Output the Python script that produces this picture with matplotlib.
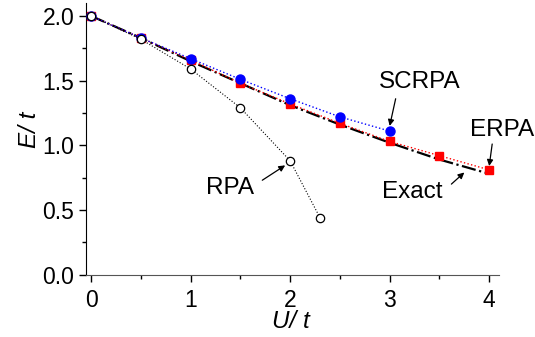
import matplotlib
matplotlib.use("Agg")
import matplotlib.pyplot as plt
from matplotlib.ticker import MultipleLocator

plt.rcParams['font.family'] = ['Liberation Sans', 'DejaVu Sans']

# data
u_rpa = [0, 0.5, 1.0, 1.5, 2.0, 2.3]
e_rpa = [2.0, 1.82, 1.59, 1.29, 0.88, 0.44]

u_scrpa = [0, 0.5, 1.0, 1.5, 2.0, 2.5, 3.0]
e_scrpa = [2.0, 1.83, 1.67, 1.51, 1.36, 1.22, 1.11]

u_erpa = [0, 0.5, 1.0, 1.5, 2.0, 2.5, 3.0, 3.5, 4.0]
e_erpa = [2.0, 1.83, 1.66, 1.48, 1.32, 1.17, 1.03, 0.92, 0.81]

u_exact = [0, 0.5, 1.0, 1.5, 2.0, 2.5, 3.0, 3.5, 4.0]
e_exact = [2.0, 1.83, 1.65, 1.48, 1.31, 1.16, 1.02, 0.89, 0.78]

fig = plt.figure(figsize=(5.35, 3.37), dpi=100)
ax = fig.add_axes([0.161, 0.185, 0.772, 0.806])

ax.plot(u_exact, e_exact, color='black', linestyle='-.', linewidth=1.6, zorder=2)
ax.plot(u_erpa, e_erpa, color='red', linestyle=':', linewidth=1.0,
        marker='s', markersize=6, markerfacecolor='red', markeredgecolor='red', zorder=3)
ax.plot(u_scrpa, e_scrpa, color='blue', linestyle=':', linewidth=1.0,
        marker='o', markersize=6.5, markerfacecolor='blue', markeredgecolor='blue', zorder=4)
ax.plot(u_rpa, e_rpa, color='black', linestyle=':', linewidth=0.8,
        marker='o', markersize=6, markerfacecolor='white', markeredgecolor='black',
        markeredgewidth=0.9, zorder=5)

arrow = dict(arrowstyle='-|>', color='black', lw=0.9, mutation_scale=9, shrinkA=0, shrinkB=0)
lab = 17.5
ax.text(3.30, 1.49, 'SCRPA', fontsize=lab, ha='center', va='center')
ax.annotate('', xy=(3.0, 1.15), xytext=(3.06, 1.36), arrowprops=arrow)
ax.text(4.13, 1.12, 'ERPA', fontsize=lab, ha='center', va='center')
ax.annotate('', xy=(4.0, 0.84), xytext=(4.03, 1.01), arrowprops=arrow)
ax.text(3.23, 0.64, 'Exact', fontsize=lab, ha='center', va='center')
ax.annotate('', xy=(3.75, 0.79), xytext=(3.62, 0.70), arrowprops=arrow)
ax.text(1.40, 0.67, 'RPA', fontsize=lab, ha='center', va='center')
ax.annotate('', xy=(1.95, 0.845), xytext=(1.72, 0.73), arrowprops=arrow)

ax.set_xlim(-0.05, 4.1)
ax.set_ylim(0, 2.1)
ax.xaxis.set_major_locator(MultipleLocator(1))
ax.xaxis.set_minor_locator(MultipleLocator(0.5))
ax.yaxis.set_minor_locator(MultipleLocator(0.25))
ax.set_yticks([0, 0.5, 1.0, 1.5, 2.0])
ax.set_yticklabels(['0.0', '0.5', '1.0', '1.5', '2.0'])
ax.tick_params(which='major', direction='out', length=5, width=1, labelsize=16.5)
ax.tick_params(which='minor', direction='out', length=3, width=1)
ax.tick_params(axis='x', which='major', pad=5)

for s in ['top', 'right']:
    ax.spines[s].set_visible(False)
ax.spines['bottom'].set_color('#555555')

fig.text(30 / 535, 1 - 130 / 337, 'E/ t', fontsize=lab, rotation=90,
         ha='center', va='center', style='italic')
fig.text(291 / 535, 1 - 322 / 337, 'U/ t', fontsize=lab,
         ha='center', va='center', style='italic')

fig.savefig('out.png', dpi=100)
